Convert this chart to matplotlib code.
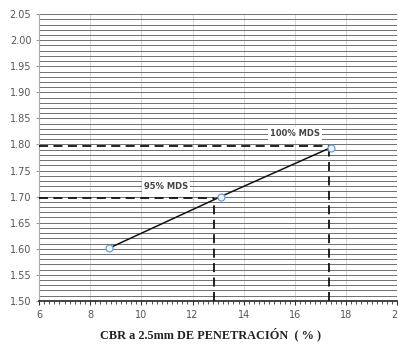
import matplotlib
matplotlib.use("Agg")
import matplotlib.pyplot as plt
import numpy as np

cbr = [8.73, 13.1, 17.4]
density = [1.601, 1.700, 1.794]
mds_levels = [1.697, 1.797]
mds_cbr = [12.85, 17.35]
mds_labels = ["95% MDS", "100% MDS"]
label_pos_x = [10.96, 16.0]
label_pos_y = [1.719, 1.821]

fig = plt.figure(figsize=(3.98, 3.54), dpi=100)
ax = fig.add_axes([0.098, 0.150, 0.90, 0.810])
ax.set_xlim(6, 20)
ax.set_ylim(1.50, 2.05)

ax.set_xticks(np.arange(6, 20.1, 2))
ax.set_xticks(np.arange(6, 20.01, 0.2), minor=True)
ax.set_yticks(np.arange(1.50, 2.051, 0.05))
ax.set_yticks(np.arange(1.50, 2.051, 0.01), minor=True)
ax.set_yticklabels([f"{v:.2f}" for v in np.arange(1.50, 2.051, 0.05)])

ax.grid(axis='y', which='both', color='#707070', lw=0.7)
ax.grid(axis='x', which='major', color='#cfcfcf', lw=0.6)
ax.set_axisbelow(True)

ax.tick_params(axis='both', which='major', labelsize=7, labelcolor='#555555', color='#333333', length=3)
ax.tick_params(axis='x', which='minor', length=2, color='#333333')
ax.tick_params(axis='y', which='minor', length=0)
ax.tick_params(axis='y', which='major', length=2, color='#999999')

for s in ['top', 'right']:
    ax.spines[s].set_visible(False)
ax.spines['left'].set_color('#aaaaaa')
ax.spines['bottom'].set_color('#222222')
ax.spines['bottom'].set_linewidth(1.2)

for lvl, xc in zip(mds_levels, mds_cbr):
    ax.plot([6, xc], [lvl, lvl], ls=(0, (5, 3)), color='#111111', lw=1.3, zorder=3)
    ax.plot([xc, xc], [1.50, lvl], ls=(0, (5, 3)), color='#111111', lw=1.3, zorder=3)

ax.plot(cbr, density, color='#111111', lw=1.1, zorder=4)
ax.plot(cbr, density, ls='none', marker='o', ms=5, mfc='#eef4fa', mec='#6aa0d0', mew=0.9, zorder=5)

for t, x, y in zip(mds_labels, label_pos_x, label_pos_y):
    ax.text(x, y, t, ha='center', va='center', fontsize=6, fontweight='bold', color='#444444',
            bbox=dict(facecolor='white', edgecolor='none', pad=1.5), zorder=6)

fig.text(0.528, 0.056, "CBR a 2.5mm DE PENETRACIÓN  ( % )", ha='center', va='center',
         fontsize=8.8, fontweight='bold', family='Liberation Serif', color='#222222')

fig.savefig("out.png", dpi=100)
